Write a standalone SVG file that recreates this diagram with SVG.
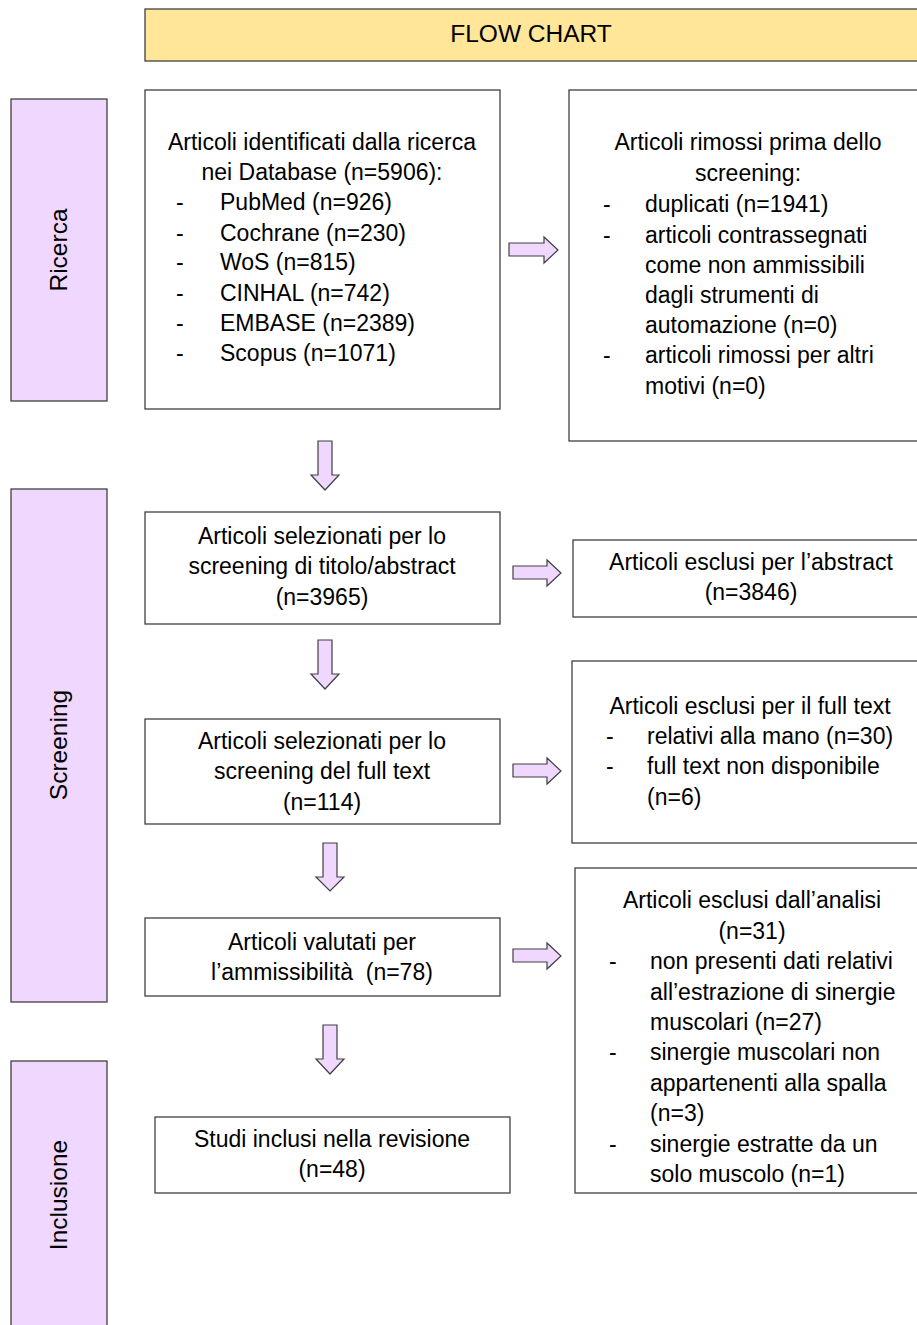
<svg xmlns="http://www.w3.org/2000/svg" width="917" height="1325" viewBox="0 0 917 1325">
<style>
text{font-family:"Liberation Sans",Arial,sans-serif;fill:#000;}
.t{font-size:23px;}
.c{text-anchor:middle;}
.side{font-size:24.5px;text-anchor:middle;}
.box{fill:#fff;stroke:#404040;stroke-width:1.3;}
.sbox{fill:#efd7fe;stroke:#404040;stroke-width:1.3;}
.arr{fill:#efd7fe;stroke:#404040;stroke-width:1.2;stroke-linejoin:miter;}
</style>
<rect width="917" height="1325" fill="#fff"/>
<g id="header">
<rect x="145" y="9" width="780" height="52" fill="#ffe699" stroke="#404040" stroke-width="1.3"/>
<text x="531" y="42" class="c" font-size="24.5">FLOW CHART</text>
</g>
<g id="ricerca">
<rect class="sbox" x="11" y="99" width="96" height="302"/>
<text class="side" transform="translate(67 250) rotate(-90)">Ricerca</text>
</g>
<g id="screening">
<rect class="sbox" x="11" y="489" width="96" height="513"/>
<text class="side" transform="translate(67 745) rotate(-90)">Screening</text>
</g>
<g id="inclusione">
<rect class="sbox" x="11" y="1061" width="96" height="280"/>
<text class="side" transform="translate(67 1195) rotate(-90)">Inclusione</text>
</g>
<g id="identificati">
<rect class="box" x="145" y="90" width="355" height="319"/>
<text class="t c" x="322" y="150">Articoli identificati dalla ricerca</text>
<text class="t c" x="322" y="180">nei Database (n=5906):</text>
<text class="t" x="176" y="210">-</text><text class="t" x="220" y="210">PubMed (n=926)</text>
<text class="t" x="176" y="241">-</text><text class="t" x="220" y="241">Cochrane (n=230)</text>
<text class="t" x="176" y="270">-</text><text class="t" x="220" y="270">WoS (n=815)</text>
<text class="t" x="176" y="301">-</text><text class="t" x="220" y="301">CINHAL (n=742)</text>
<text class="t" x="176" y="331">-</text><text class="t" x="220" y="331">EMBASE (n=2389)</text>
<text class="t" x="176" y="361">-</text><text class="t" x="220" y="361">Scopus (n=1071)</text>
</g>
<g id="rimossi">
<rect class="box" x="569" y="90" width="360" height="351"/>
<text class="t c" x="748" y="150">Articoli rimossi prima dello</text>
<text class="t c" x="748" y="181">screening:</text>
<text class="t" x="603" y="212">-</text><text class="t" x="645" y="212">duplicati (n=1941)</text>
<text class="t" x="603" y="243">-</text><text class="t" x="645" y="243">articoli contrassegnati</text>
<text class="t" x="645" y="273">come non ammissibili</text>
<text class="t" x="645" y="303">dagli strumenti di</text>
<text class="t" x="645" y="333">automazione (n=0)</text>
<text class="t" x="603" y="363">-</text><text class="t" x="645" y="363">articoli rimossi per altri</text>
<text class="t" x="645" y="394">motivi (n=0)</text>
</g>
<g id="selezionati-titolo">
<rect class="box" x="145" y="512" width="355" height="112"/>
<text class="t c" x="322" y="544">Articoli selezionati per lo</text>
<text class="t c" x="322" y="574">screening di titolo/abstract</text>
<text class="t c" x="322" y="605">(n=3965)</text>
</g>
<g id="esclusi-abstract">
<rect class="box" x="573" y="540" width="356" height="77"/>
<text class="t c" x="751" y="570">Articoli esclusi per l’abstract</text>
<text class="t c" x="751" y="600">(n=3846)</text>
</g>
<g id="selezionati-full">
<rect class="box" x="145" y="719" width="355" height="105"/>
<text class="t c" x="322" y="749">Articoli selezionati per lo</text>
<text class="t c" x="322" y="779">screening del full text</text>
<text class="t c" x="322" y="810">(n=114)</text>
</g>
<g id="esclusi-full">
<rect class="box" x="572" y="661" width="357" height="182"/>
<text class="t c" x="750" y="714">Articoli esclusi per il full text</text>
<text class="t" x="606" y="744">-</text><text class="t" x="647" y="744">relativi alla mano (n=30)</text>
<text class="t" x="606" y="774">-</text><text class="t" x="647" y="774">full text non disponibile</text>
<text class="t" x="647" y="805">(n=6)</text>
</g>
<g id="valutati">
<rect class="box" x="145" y="918" width="355" height="78"/>
<text class="t c" x="322" y="950">Articoli valutati per</text>
<text class="t c" x="322" y="980" xml:space="preserve">l’ammissibilità  (n=78)</text>
</g>
<g id="esclusi-analisi">
<rect class="box" x="575" y="868" width="354" height="325"/>
<text class="t c" x="752" y="908">Articoli esclusi dall’analisi</text>
<text class="t c" x="752" y="939">(n=31)</text>
<text class="t" x="609" y="969">-</text><text class="t" x="650" y="969">non presenti dati relativi</text>
<text class="t" x="650" y="1000">all’estrazione di sinergie</text>
<text class="t" x="650" y="1030">muscolari (n=27)</text>
<text class="t" x="609" y="1060">-</text><text class="t" x="650" y="1060">sinergie muscolari non</text>
<text class="t" x="650" y="1091">appartenenti alla spalla</text>
<text class="t" x="650" y="1121">(n=3)</text>
<text class="t" x="609" y="1152">-</text><text class="t" x="650" y="1152">sinergie estratte da un</text>
<text class="t" x="650" y="1182">solo muscolo (n=1)</text>
</g>
<g id="inclusi">
<rect class="box" x="155" y="1117" width="355" height="76"/>
<text class="t c" x="332" y="1147">Studi inclusi nella revisione</text>
<text class="t c" x="332" y="1177">(n=48)</text>
</g>
<g id="connectors">
<path class="arr" d="M509 243H544V237L558 250L544 263V256H509Z"/>
<path class="arr" d="M513 566H547V560L561 573L547 586V579H513Z"/>
<path class="arr" d="M513 764H547V758L561 771L547 784V777H513Z"/>
<path class="arr" d="M513 949H547V943L561 956L547 969V962H513Z"/>
<path class="arr" d="M318 441V475H311L325 490L339 475H332V441Z"/>
<path class="arr" d="M318 640V674H311L325 689L339 674H332V640Z"/>
<path class="arr" d="M323 843V877H316L330 891L344 877H337V843Z"/>
<path class="arr" d="M323 1025V1059H316L330 1074L344 1059H337V1025Z"/>
</g>
</svg>
